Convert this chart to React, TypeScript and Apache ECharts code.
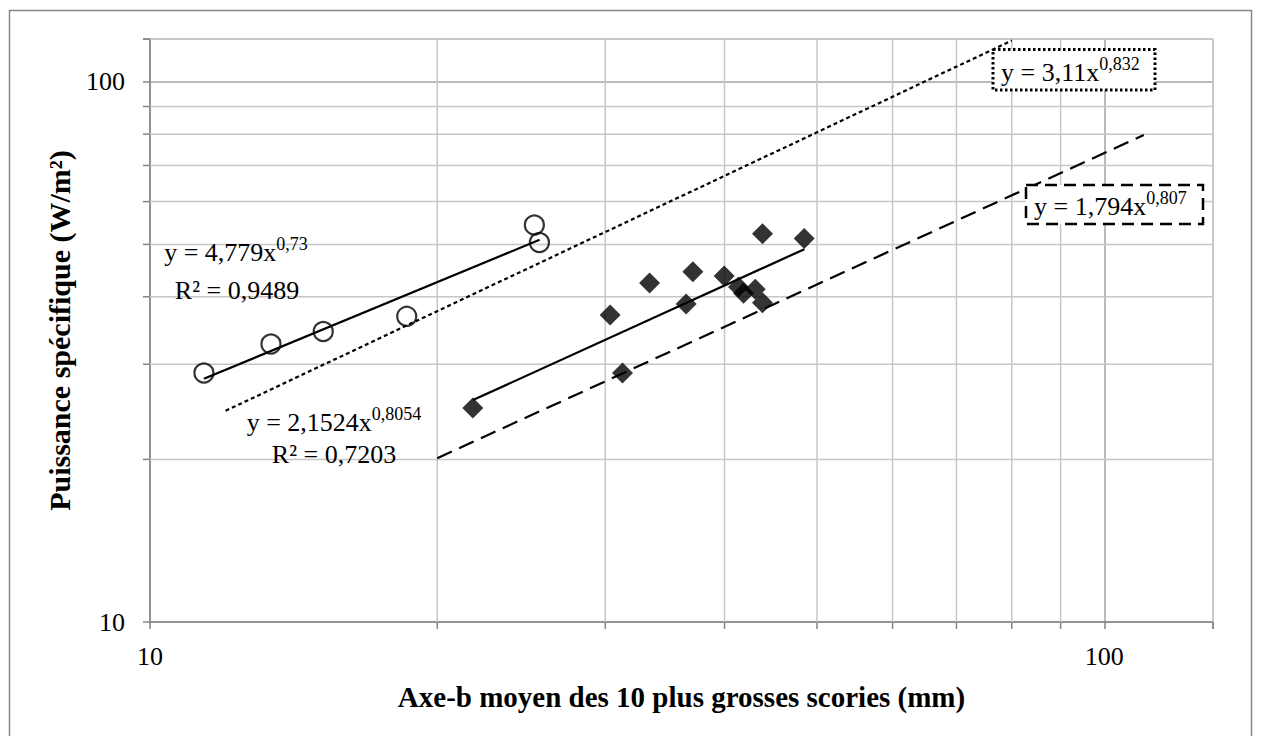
import React, { useEffect, useRef } from "react";
import * as echarts from "echarts";

// ---- data ----
const circleX = [11.39, 13.39, 15.19, 18.58, 25.28, 25.59];
const circleY = [28.9, 32.7, 34.5, 36.8, 54.3, 50.4];

const diamondX = [21.79, 30.35, 31.27, 33.38, 36.46, 37.06, 39.97, 41.37, 41.88, 43.08, 43.84, 43.84, 48.48];
const diamondY = [24.9, 37.0, 28.9, 42.4, 38.8, 44.5, 43.7, 41.7, 40.6, 41.3, 39.0, 52.3, 51.3];

// trend line end points
const trendCircleX = [11.39, 25.6];
const trendCircleY = [28.2, 51.0];
const trendDiamondX = [21.8, 48.5];
const trendDiamondY = [25.75, 49.0];
const upperX = [12, 80];
const upperY = [24.6, 119.2];
const lowerX = [20, 110];
const lowerY = [20.1, 79.7];

const xRange = [10, 130];
const yRange = [10, 120];
const xTickLabels = [10, 100];
const yTickLabels = [10, 100];
const xMinorTicks = [20, 30, 40, 50, 60, 70, 80, 90];
const yMinorTicks = [20, 30, 40, 50, 60, 70, 80, 90];

const xTitle = "Axe-b moyen des 10 plus grosses scories (mm)";
const yTitle = "Puissance spécifique (W/m²)";

const FONT = "Liberation Serif";
const GRID_MINOR = "#c6c6c6";
const GRID_MAJOR = "#a3a3a3";
const AXIS = "#868686";

const pairs = (xs: number[], ys: number[]) => xs.map((x, i) => [x, ys[i]]);

const supRich = {
  m: { fontFamily: FONT, fontSize: 26, lineHeight: 34, fill: "#000", color: "#000" },
  s: { fontFamily: FONT, fontSize: 18, lineHeight: 18, verticalAlign: "top", fill: "#000", color: "#000" },
};

export default function App() {
  const ref = useRef<HTMLDivElement>(null);

  useEffect(() => {
    if (!ref.current) return;
    const chart = echarts.init(ref.current, undefined, { renderer: "svg" });

    const labelFmt = (allowed: number[]) => (v: number) => {
      const r = Math.round(v);
      return allowed.includes(r) ? String(r) : "";
    };

    const option: any = {
      animation: false,
      backgroundColor: "#fff",
      grid: { left: 150, top: 39, right: 48, bottom: 114, containLabel: false },
      xAxis: {
        type: "log",
        logBase: 10,
        min: xRange[0],
        max: xRange[1],
        name: xTitle,
        nameLocation: "middle",
        nameGap: 60,
        nameTextStyle: { fontFamily: FONT, fontWeight: "bold", fontSize: 29, color: "#000" },
        axisLine: { show: true, lineStyle: { color: AXIS, width: 1.5 } },
        axisTick: { show: true, length: 7, lineStyle: { color: AXIS, width: 1.5 } },
        axisLabel: { fontFamily: FONT, fontSize: 26, color: "#000", margin: 21, formatter: labelFmt(xTickLabels) },
        splitLine: { show: true, lineStyle: { color: [GRID_MAJOR, GRID_MAJOR, GRID_MINOR], width: 1.5 } },
      },
      yAxis: {
        type: "log",
        logBase: 10,
        min: yRange[0],
        max: yRange[1],
        name: yTitle,
        nameLocation: "middle",
        nameGap: 76,
        nameTextStyle: { fontFamily: FONT, fontWeight: "bold", fontSize: 30, color: "#000" },
        axisLine: { show: true, lineStyle: { color: AXIS, width: 1.5 } },
        axisTick: { show: true, length: 7, lineStyle: { color: AXIS, width: 1.5 } },
        axisLabel: { fontFamily: FONT, fontSize: 26, color: "#000", margin: 25, formatter: labelFmt(yTickLabels) },
        splitLine: { show: true, lineStyle: { color: [GRID_MAJOR, GRID_MAJOR, GRID_MINOR], width: 1.5 } },
      },
      series: [
        {
          type: "custom",
          name: "xgrid",
          z: 1,
          silent: true,
          clip: false,
          encode: { x: 0, y: 1 },
          data: [...xMinorTicks, xRange[1]].map((v) => [v, yRange[0]]),
          renderItem: (_p: any, api: any) => {
            const v = api.value(0);
            const a = api.coord([v, yRange[0]]);
            const b = api.coord([v, yRange[1]]);
            return {
              type: "group",
              children: [
                { type: "line", shape: { x1: a[0], y1: a[1], x2: b[0], y2: b[1] }, style: { stroke: GRID_MINOR, lineWidth: 1.5 } },
                { type: "line", shape: { x1: a[0], y1: a[1], x2: a[0], y2: a[1] + 7 }, style: { stroke: AXIS, lineWidth: 1.5 } },
              ],
            };
          },
        },
        {
          type: "custom",
          name: "ygrid",
          z: 1,
          silent: true,
          clip: false,
          encode: { x: 0, y: 1 },
          data: [...yMinorTicks, yRange[1]].map((v) => [xRange[0], v]),
          renderItem: (_p: any, api: any) => {
            const v = api.value(1);
            const a = api.coord([xRange[0], v]);
            const b = api.coord([xRange[1], v]);
            return {
              type: "group",
              children: [
                { type: "line", shape: { x1: a[0], y1: a[1], x2: b[0], y2: b[1] }, style: { stroke: GRID_MINOR, lineWidth: 1.5 } },
                { type: "line", shape: { x1: a[0] - 7, y1: a[1], x2: a[0], y2: a[1] }, style: { stroke: AXIS, lineWidth: 1.5 } },
              ],
            };
          },
        },
        {
          type: "line",
          name: "upper",
          z: 3,
          data: pairs(upperX, upperY),
          showSymbol: false,
          lineStyle: { color: "#000", width: 2.2, type: [4, 3] },
        },
        {
          type: "line",
          name: "lower",
          z: 3,
          data: pairs(lowerX, lowerY),
          showSymbol: false,
          lineStyle: { color: "#000", width: 2.2, type: [16, 8] },
        },
        {
          type: "line",
          name: "trendCircle",
          z: 3,
          data: pairs(trendCircleX, trendCircleY),
          showSymbol: false,
          lineStyle: { color: "#000", width: 2.2 },
        },
        {
          type: "line",
          name: "trendDiamond",
          z: 3,
          data: pairs(trendDiamondX, trendDiamondY),
          showSymbol: false,
          lineStyle: { color: "#000", width: 2.2 },
        },
        {
          type: "scatter",
          name: "circles",
          z: 4,
          symbol: "circle",
          symbolSize: 19,
          itemStyle: { color: "rgba(255,255,255,0)", borderColor: "#000", borderWidth: 2.2 },
          data: pairs(circleX, circleY),
        },
        {
          type: "scatter",
          name: "diamonds",
          z: 4,
          symbol: "diamond",
          symbolSize: 21,
          itemStyle: { color: "#000" },
          data: pairs(diamondX, diamondY),
        },
      ],
      graphic: [
        {
          type: "rect",
          silent: true,
          z: -10,
          shape: { x: 9.5, y: 10.5, width: 1242, height: 760 },
          style: { fill: "none", stroke: AXIS, lineWidth: 1.5 },
        },
        {
          type: "text",
          z: 10,
          x: 236,
          y: 252,
          style: { text: "{m|y = 4,779x}{s|0,73}", rich: supRich, align: "center", verticalAlign: "middle" },
        },
        {
          type: "text",
          z: 10,
          x: 237,
          y: 290,
          style: { text: "R² = 0,9489", fontFamily: FONT, fontSize: 26, fill: "#000", align: "center", verticalAlign: "middle" },
        },
        {
          type: "text",
          z: 10,
          x: 334,
          y: 422,
          style: { text: "{m|y = 2,1524x}{s|0,8054}", rich: supRich, align: "center", verticalAlign: "middle" },
        },
        {
          type: "text",
          z: 10,
          x: 334,
          y: 454,
          style: { text: "R² = 0,7203", fontFamily: FONT, fontSize: 26, fill: "#000", align: "center", verticalAlign: "middle" },
        },
        {
          type: "rect",
          z: 9,
          shape: { x: 993, y: 49.5, width: 162, height: 40.5 },
          style: { fill: "#fff", stroke: "#000", lineWidth: 3, lineDash: [2.5, 2.5] },
        },
        {
          type: "text",
          z: 10,
          x: 1001,
          y: 72,
          style: { text: "{m|y = 3,11x}{s|0,832}", rich: supRich, align: "left", verticalAlign: "middle" },
        },
        {
          type: "rect",
          z: 9,
          shape: { x: 1026, y: 185, width: 177, height: 39 },
          style: { fill: "#fff", stroke: "#000", lineWidth: 2.5, lineDash: [12, 7] },
        },
        {
          type: "text",
          z: 10,
          x: 1034,
          y: 206,
          style: { text: "{m|y = 1,794x}{s|0,807}", rich: supRich, align: "left", verticalAlign: "middle" },
        },
      ],
    };

    chart.setOption(option);
    return () => chart.dispose();
  }, []);

  return (
    <div
      ref={ref}
      style={{ position: "fixed", left: 0, top: 0, width: 1261, height: 736, background: "#fff" }}
    />
  );
}
